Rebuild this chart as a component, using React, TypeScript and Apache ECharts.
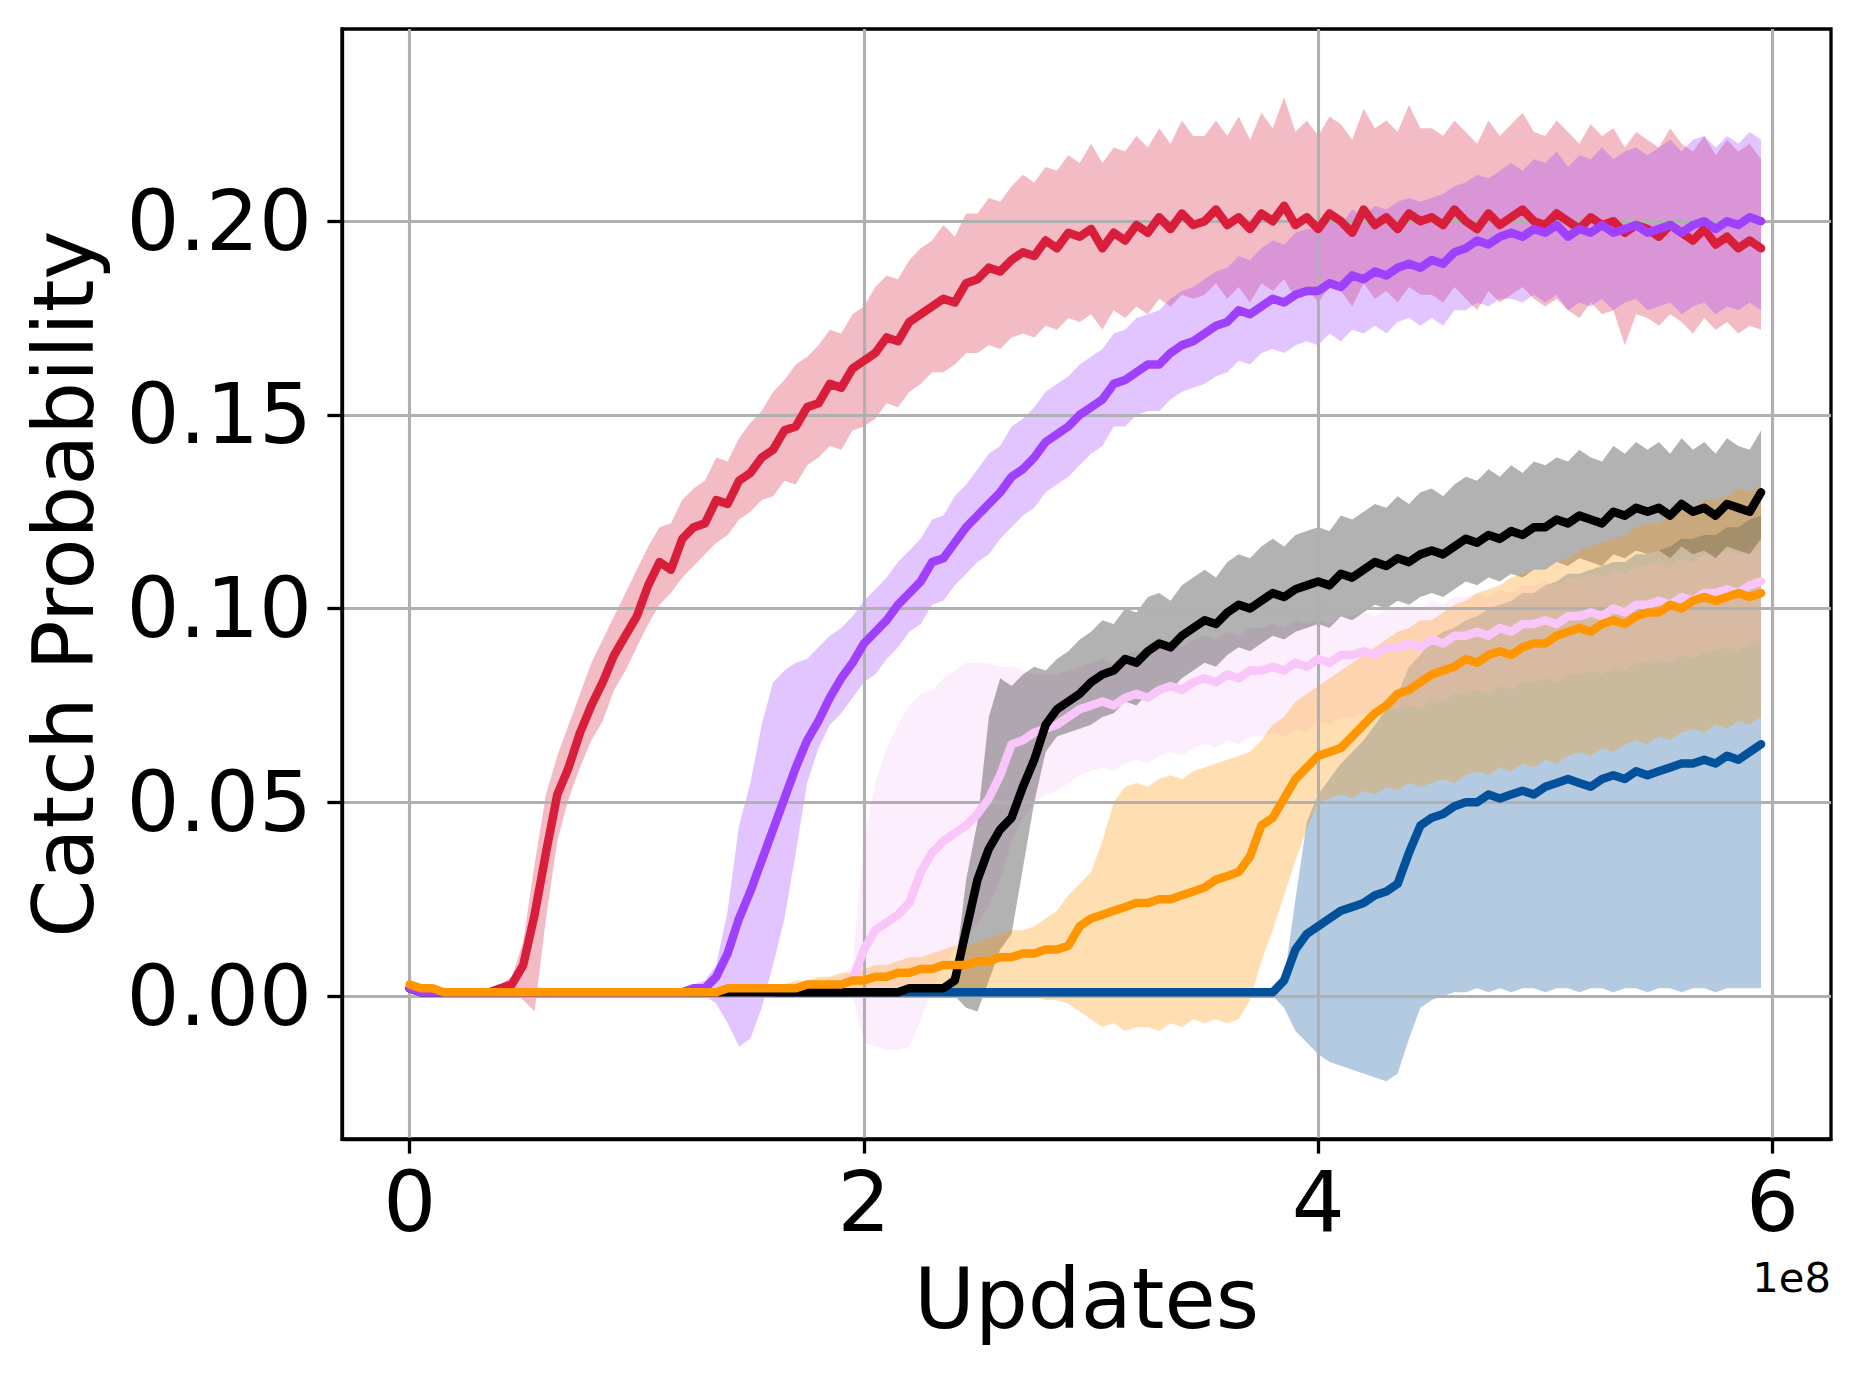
import React, { useEffect, useRef } from "react";
import * as echarts from "echarts";

// x positions in units of 1e8 updates
const X_UPDATES = [
  0.0, 0.05, 0.1, 0.15, 0.2, 0.25, 0.3, 0.35, 0.4, 0.45,
  0.5, 0.55, 0.6, 0.65, 0.7, 0.75, 0.8, 0.85, 0.9, 0.95,
  1.0, 1.05, 1.1, 1.15, 1.2, 1.25, 1.3, 1.35, 1.4, 1.45,
  1.5, 1.55, 1.6, 1.65, 1.7, 1.75, 1.8, 1.85, 1.9, 1.95,
  2.0, 2.05, 2.1, 2.15, 2.2, 2.25, 2.3, 2.35, 2.4, 2.45,
  2.5, 2.55, 2.6, 2.65, 2.7, 2.75, 2.8, 2.85, 2.9, 2.95,
  3.0, 3.05, 3.1, 3.15, 3.2, 3.25, 3.3, 3.35, 3.4, 3.45,
  3.5, 3.55, 3.6, 3.65, 3.7, 3.75, 3.8, 3.85, 3.9, 3.95,
  4.0, 4.05, 4.1, 4.15, 4.2, 4.25, 4.3, 4.35, 4.4, 4.45,
  4.5, 4.55, 4.6, 4.65, 4.7, 4.75, 4.8, 4.85, 4.9, 4.95,
  5.0, 5.05, 5.1, 5.15, 5.2, 5.25, 5.3, 5.35, 5.4, 5.45,
  5.5, 5.55, 5.6, 5.65, 5.7, 5.75, 5.8, 5.85, 5.9, 5.95,
];

// catch probability in per-mille (1/1000)
const RED_MEAN = [
  2, 1, 1, 1, 1, 1, 1, 1, 2, 3,
  8, 21, 37, 52, 59, 68, 75, 81, 88, 93,
  98, 106, 112, 110, 118, 121, 122, 128, 127, 133,
  135, 139, 141, 146, 147, 152, 153, 158, 157, 162,
  164, 166, 170, 169, 174, 176, 178, 180, 179, 184,
  185, 188, 187, 190, 192, 191, 195, 193, 197, 196,
  198, 193, 197, 195, 199, 197, 201, 198, 202, 199,
  200, 203, 199, 201, 198, 202, 200, 204, 199, 201,
  198, 202, 200, 197, 203, 199, 201, 198, 202, 200,
  201, 199, 203, 200, 198, 202, 199, 201, 203, 200,
  199, 202, 200, 198, 201, 199, 200, 197, 199, 198,
  196, 199, 197, 195, 198, 194, 196, 193, 195, 193,
];
const RED_LO = [
  1, 0, 0, 0, 0, 0, 0, 0, 1, 1,
  -1, -4, 20, 40, 51, 59, 66, 71, 79, 84,
  90, 96, 101, 104, 108, 111, 114, 117, 119, 123,
  125, 128, 129, 133, 132, 137, 139, 142, 141, 146,
  147, 149, 153, 152, 156, 158, 161, 161, 163, 166,
  166, 168, 167, 170, 171, 170, 173, 172, 175, 174,
  176, 172, 177, 175, 178, 176, 180, 178, 181, 180,
  181, 184, 180, 183, 179, 184, 182, 185, 180, 183,
  179, 183, 182, 178, 184, 180, 182, 179, 183, 181,
  181, 179, 183, 180, 177, 182, 179, 181, 183, 180,
  178, 180, 177, 175, 179, 176, 177, 168, 176, 175,
  173, 176, 174, 171, 175, 172, 174, 171, 173, 172,
];
const RED_HI = [
  3, 2, 2, 2, 2, 2, 2, 2, 3, 5,
  14, 34, 52, 62, 70, 78, 86, 92, 98, 104,
  110, 116, 121, 122, 128, 131, 133, 139, 138, 144,
  148, 151, 156, 159, 163, 165, 168, 172, 171, 176,
  178, 183, 186, 185, 190, 193, 195, 199, 196, 202,
  202, 206, 205, 209, 212, 210, 214, 213, 217, 215,
  220, 215, 219, 218, 222, 219, 224, 220, 226, 222,
  222, 226, 222, 227, 221, 228, 224, 232, 223, 226,
  222, 227, 225, 221, 229, 224, 226, 223, 230, 224,
  224, 222, 226, 223, 220, 226, 222, 225, 228, 223,
  222, 226, 223, 220, 225, 222, 224, 219, 223, 221,
  219, 224, 220, 218, 222, 217, 221, 218, 220, 216,
];

const PURPLE_MEAN = [
  2, 1, 1, 1, 1, 1, 1, 1, 1, 1,
  1, 1, 1, 1, 1, 1, 1, 1, 1, 1,
  1, 1, 1, 1, 1, 2, 2, 5, 11, 20,
  27, 35, 43, 51, 59, 66, 71, 77, 82, 86,
  91, 94, 97, 101, 104, 107, 112, 113, 117, 121,
  124, 127, 130, 134, 136, 139, 143, 145, 147, 150,
  152, 154, 158, 159, 161, 163, 163, 166, 168, 169,
  171, 173, 174, 177, 176, 178, 180, 179, 181, 182,
  182, 184, 183, 186, 185, 187, 186, 188, 189, 188,
  190, 189, 192, 193, 195, 194, 196, 197, 196, 198,
  197, 199, 196, 198, 197, 199, 197, 198, 199, 197,
  198, 199, 197, 199, 200, 198, 200, 199, 201, 200,
];
const PURPLE_LO = [
  1, 0, 0, 0, 0, 0, 0, 0, 0, 0,
  0, 0, 0, 0, 0, 0, 0, 0, 0, 0,
  0, 0, 0, 0, 0, 0, 0, -2, -7, -13,
  -11, -3, 8, 20, 37, 55, 64, 70, 73, 77,
  81, 83, 87, 90, 94, 96, 101, 102, 106, 109,
  112, 114, 118, 121, 124, 126, 130, 132, 134, 137,
  140, 142, 147, 147, 150, 151, 151, 154, 156, 157,
  158, 160, 161, 164, 163, 166, 167, 166, 168, 169,
  168, 171, 169, 172, 171, 173, 171, 174, 175, 173,
  175, 173, 177, 177, 179, 178, 180, 180, 179, 181,
  179, 181, 177, 179, 178, 180, 177, 179, 180, 177,
  178, 179, 176, 178, 179, 176, 178, 177, 179, 177,
];
const PURPLE_HI = [
  3, 2, 2, 2, 2, 2, 2, 2, 2, 2,
  2, 2, 2, 2, 2, 2, 2, 2, 2, 2,
  2, 2, 2, 2, 2, 3, 4, 8, 22, 44,
  55, 70, 81, 84, 86, 87, 90, 93, 95, 98,
  102, 105, 108, 112, 115, 118, 123, 124, 129, 132,
  136, 140, 142, 147, 149, 152, 156, 158, 160, 163,
  165, 167, 171, 172, 175, 176, 177, 180, 182, 183,
  185, 187, 188, 191, 190, 193, 195, 194, 197, 198,
  198, 200, 199, 203, 201, 204, 203, 205, 206, 205,
  206, 207, 209, 210, 212, 211, 213, 215, 213, 216,
  215, 218, 214, 217, 216, 219, 216, 218, 219, 217,
  219, 221, 218, 221, 222, 219, 222, 220, 223, 221,
];

const PINK_MEAN = [
  2, 1, 1, 1, 1, 1, 1, 1, 1, 1,
  1, 1, 1, 1, 1, 1, 1, 1, 1, 1,
  1, 1, 1, 1, 1, 1, 1, 1, 1, 1,
  1, 1, 1, 2, 2, 2, 2, 3, 3, 4,
  12, 17, 19, 21, 24, 32, 37, 40, 42, 44,
  47, 51, 57, 65, 66, 68, 69, 70, 72, 74,
  75, 76, 75, 77, 78, 77, 79, 80, 79, 81,
  82, 81, 83, 82, 84, 84, 85, 84, 86, 85,
  87, 86, 88, 88, 89, 88, 90, 90, 91, 90,
  92, 91, 93, 93, 94, 93, 95, 94, 96, 96,
  97, 96, 98, 98, 99, 98, 100, 99, 101, 101,
  102, 101, 103, 102, 104, 104, 105, 104, 106, 107,
];
const PINK_LO = [
  1, 0, 0, 0, 0, 0, 0, 0, 0, 0,
  0, 0, 0, 0, 0, 0, 0, 0, 0, 0,
  0, 0, 0, 0, 0, 0, 0, 0, 0, 0,
  0, 0, 0, 0, 0, 0, 0, 1, 1, 0,
  -12, -13, -14, -14, -13, -6, 2, 8, 12, 15,
  19, 23, 30, 40, 46, 50, 52, 53, 55, 57,
  58, 59, 58, 60, 61, 60, 62, 63, 62, 64,
  65, 64, 66, 65, 67, 67, 68, 67, 69, 68,
  71, 70, 72, 72, 73, 72, 74, 74, 75, 74,
  77, 76, 78, 78, 79, 78, 80, 79, 81, 81,
  82, 81, 83, 83, 84, 83, 85, 84, 86, 86,
  87, 86, 88, 87, 89, 89, 90, 89, 91, 92,
];
const PINK_HI = [
  3, 2, 2, 2, 2, 2, 2, 2, 2, 2,
  2, 2, 2, 2, 2, 2, 2, 2, 2, 2,
  2, 2, 2, 2, 2, 2, 2, 2, 2, 2,
  2, 2, 2, 3, 3, 3, 3, 5, 5, 8,
  40, 55, 64, 70, 75, 78, 79, 82, 84, 86,
  86, 86, 85, 85, 84, 83, 83, 83, 84, 85,
  86, 87, 86, 88, 89, 88, 90, 91, 90, 92,
  93, 92, 94, 93, 95, 95, 96, 95, 97, 96,
  97, 96, 98, 98, 99, 98, 100, 100, 101, 100,
  102, 101, 103, 103, 104, 103, 105, 104, 106, 106,
  107, 106, 108, 108, 109, 108, 110, 109, 111, 111,
  112, 111, 113, 112, 114, 114, 115, 114, 116, 117,
];

const BLACK_MEAN = [
  2, 1, 1, 1, 1, 1, 1, 1, 1, 1,
  1, 1, 1, 1, 1, 1, 1, 1, 1, 1,
  1, 1, 1, 1, 1, 1, 1, 1, 1, 1,
  1, 1, 1, 1, 1, 1, 1, 1, 1, 1,
  1, 1, 1, 1, 2, 2, 2, 2, 4, 17,
  30, 38, 43, 46, 54, 61, 70, 74, 76, 78,
  81, 83, 84, 87, 86, 89, 91, 90, 93, 95,
  97, 96, 99, 101, 100, 102, 104, 103, 105, 106,
  107, 106, 109, 108, 110, 112, 111, 113, 112, 114,
  115, 114, 116, 118, 117, 119, 118, 120, 119, 121,
  121, 123, 122, 124, 123, 122, 125, 124, 126, 125,
  126, 124, 127, 125, 126, 124, 127, 126, 125, 130,
];
const BLACK_LO = [
  1, 0, 0, 0, 0, 0, 0, 0, 0, 0,
  0, 0, 0, 0, 0, 0, 0, 0, 0, 0,
  0, 0, 0, 0, 0, 0, 0, 0, 0, 0,
  0, 0, 0, 0, 0, 0, 0, 0, 0, 0,
  0, 0, 0, 0, 1, 1, 1, 1, 0, -3,
  -4, 4, 12, 16, 33, 50, 63, 67, 68, 69,
  70, 72, 73, 76, 75, 78, 80, 79, 82, 84,
  86, 85, 88, 90, 89, 91, 93, 92, 94, 95,
  96, 95, 98, 97, 99, 101, 100, 102, 101, 103,
  104, 103, 105, 107, 106, 108, 107, 109, 108, 110,
  110, 112, 111, 113, 112, 111, 114, 113, 115, 114,
  115, 113, 116, 114, 115, 113, 116, 115, 114, 118,
];
const BLACK_HI = [
  3, 2, 2, 2, 2, 2, 2, 2, 2, 2,
  2, 2, 2, 2, 2, 2, 2, 2, 2, 2,
  2, 2, 2, 2, 2, 2, 2, 2, 2, 2,
  2, 2, 2, 2, 2, 2, 2, 2, 2, 2,
  2, 2, 2, 2, 3, 3, 3, 3, 6, 30,
  45, 72, 82, 80, 83, 85, 84, 87, 89, 92,
  94, 97, 96, 100, 99, 103, 104, 102, 106, 108,
  110, 108, 112, 114, 113, 116, 118, 116, 119, 120,
  121, 120, 124, 123, 125, 127, 126, 129, 127, 130,
  131, 129, 132, 134, 133, 136, 134, 137, 135, 138,
  137, 139, 138, 141, 139, 138, 142, 140, 143, 141,
  143, 140, 144, 141, 143, 140, 144, 142, 141, 146,
];

const ORANGE_MEAN = [
  3, 2, 2, 1, 1, 1, 1, 1, 1, 1,
  1, 1, 1, 1, 1, 1, 1, 1, 1, 1,
  1, 1, 1, 1, 1, 1, 1, 1, 2, 2,
  2, 2, 2, 2, 2, 3, 3, 3, 3, 4,
  4, 5, 5, 6, 6, 7, 7, 8, 8, 8,
  9, 9, 10, 10, 11, 11, 12, 12, 13, 18,
  20, 21, 22, 23, 24, 24, 25, 25, 26, 27,
  28, 30, 31, 32, 36, 44, 46, 51, 56, 59,
  62, 63, 64, 67, 70, 73, 75, 78, 79, 81,
  83, 84, 85, 87, 86, 88, 89, 88, 90, 91,
  91, 93, 94, 95, 94, 96, 97, 96, 98, 99,
  99, 101, 100, 102, 103, 102, 103, 104, 103, 104,
];
const ORANGE_LO = [
  2, 1, 1, 0, 0, 0, 0, 0, 0, 0,
  0, 0, 0, 0, 0, 0, 0, 0, 0, 0,
  0, 0, 0, 0, 0, 0, 0, 0, 0, 0,
  0, 0, 0, 0, 0, 0, 0, 0, 0, 0,
  0, 0, 0, 0, 0, 0, 0, 0, 0, 0,
  0, 0, 0, 0, 0, 0, -1, -1, -2, -4,
  -6, -8, -7, -9, -8, -8, -9, -7, -8, -6,
  -7, -6, -7, -6, -1, 9, 17, 26, 35, 43,
  50, 51, 52, 51, 53, 52, 54, 53, 55, 54,
  55, 56, 55, 57, 58, 57, 59, 58, 60, 59,
  61, 60, 62, 63, 62, 64, 63, 65, 66, 65,
  67, 66, 68, 69, 68, 70, 69, 71, 70, 72,
];
const ORANGE_HI = [
  4, 3, 3, 2, 2, 2, 2, 2, 2, 2,
  2, 2, 2, 2, 2, 2, 2, 2, 2, 2,
  2, 2, 2, 2, 2, 2, 2, 2, 3, 3,
  3, 3, 3, 3, 4, 4, 5, 5, 6, 6,
  7, 8, 8, 9, 10, 10, 11, 12, 13, 13,
  14, 15, 16, 17, 17, 18, 20, 22, 26, 29,
  32, 40, 50, 54, 55, 54, 56, 57, 56, 58,
  59, 60, 61, 62, 63, 66, 70, 72, 76, 78,
  80, 82, 84, 86, 88, 90, 92, 94, 95, 97,
  97, 99, 101, 102, 104, 105, 106, 108, 109, 110,
  110, 112, 113, 115, 116, 117, 118, 119, 121, 122,
  122, 124, 125, 126, 128, 128, 129, 131, 130, 132,
];

const BLUE_MEAN = [
  2, 1, 1, 1, 1, 1, 1, 1, 1, 1,
  1, 1, 1, 1, 1, 1, 1, 1, 1, 1,
  1, 1, 1, 1, 1, 1, 1, 1, 1, 1,
  1, 1, 1, 1, 1, 1, 1, 1, 1, 1,
  1, 1, 1, 1, 1, 1, 1, 1, 1, 1,
  1, 1, 1, 1, 1, 1, 1, 1, 1, 1,
  1, 1, 1, 1, 1, 1, 1, 1, 1, 1,
  1, 1, 1, 1, 1, 1, 1, 4, 12, 16,
  18, 20, 22, 23, 24, 26, 27, 29, 37, 44,
  46, 47, 49, 50, 50, 52, 51, 52, 53, 52,
  54, 55, 56, 55, 54, 56, 57, 56, 58, 57,
  58, 59, 60, 60, 61, 60, 62, 61, 63, 65,
];
const BLUE_LO = [
  1, 0, 0, 0, 0, 0, 0, 0, 0, 0,
  0, 0, 0, 0, 0, 0, 0, 0, 0, 0,
  0, 0, 0, 0, 0, 0, 0, 0, 0, 0,
  0, 0, 0, 0, 0, 0, 0, 0, 0, 0,
  0, 0, 0, 0, 0, 0, 0, 0, 0, 0,
  0, 0, 0, 0, 0, 0, 0, 0, 0, 0,
  0, 0, 0, 0, 0, 0, 0, 0, 0, 0,
  0, 0, 0, 0, 0, 0, 0, -3, -9, -12,
  -15, -17, -18, -19, -20, -21, -22, -20, -11, -3,
  -1, 0, 1, 1, 2, 1, 2, 1, 2, 2,
  1, 2, 2, 1, 2, 2, 1, 2, 2, 1,
  2, 2, 1, 2, 2, 1, 2, 2, 2, 2,
];
const BLUE_HI = [
  3, 2, 2, 2, 2, 2, 2, 2, 2, 2,
  2, 2, 2, 2, 2, 2, 2, 2, 2, 2,
  2, 2, 2, 2, 2, 2, 2, 2, 2, 2,
  2, 2, 2, 2, 2, 2, 2, 2, 2, 2,
  2, 2, 2, 2, 2, 2, 2, 2, 2, 2,
  2, 2, 2, 2, 2, 2, 2, 2, 2, 2,
  2, 2, 2, 2, 2, 2, 2, 2, 2, 2,
  2, 2, 2, 2, 2, 2, 2, 4, 25, 45,
  52, 56, 60, 63, 66, 70, 74, 78, 85, 88,
  92, 94, 95, 97, 98, 100, 101, 102, 104, 104,
  106, 107, 109, 109, 110, 111, 112, 112, 114, 114,
  115, 116, 118, 118, 119, 119, 121, 121, 123, 124,
];

const X_TICKS = [0, 2e8, 4e8, 6e8];
const Y_TICKS = [0, 0.05, 0.1, 0.15, 0.2];

// drawing order: first = bottom
const RUNS = [
  { key: "red", color: "#D81E3A", mean: RED_MEAN, lo: RED_LO, hi: RED_HI },
  { key: "blue", color: "#03519B", mean: BLUE_MEAN, lo: BLUE_LO, hi: BLUE_HI },
  { key: "pink", color: "#F8C6F8", mean: PINK_MEAN, lo: PINK_LO, hi: PINK_HI },
  { key: "black", color: "#000000", mean: BLACK_MEAN, lo: BLACK_LO, hi: BLACK_HI },
  { key: "purple", color: "#A040FF", mean: PURPLE_MEAN, lo: PURPLE_LO, hi: PURPLE_HI },
  { key: "orange", color: "#FF9600", mean: ORANGE_MEAN, lo: ORANGE_LO, hi: ORANGE_HI },
];

const FONT = "DejaVu Sans";
const FS = 83.3;

export default function App() {
  const ref = useRef<HTMLDivElement>(null);

  useEffect(() => {
    if (!ref.current) return;
    const chart = echarts.init(ref.current, null, { renderer: "svg" });

    const toPts = (arr: number[]) => X_UPDATES.map((x, i) => [x * 1e8, arr[i] / 1000]);

    const bandSeries: any[] = RUNS.map((r) => ({
      type: "custom",
      name: r.key + "-band",
      silent: true,
      z: 1,
      clip: true,
      encode: { x: 0, y: [1, 2] },
      data: X_UPDATES.map((x, i) => [x * 1e8, r.lo[i] / 1000, r.hi[i] / 1000]),
      renderItem: (params: any, api: any) => {
        if (params.dataIndexInside !== 0) return null;
        const n = params.dataInsideLength;
        const upper: number[][] = [];
        const lower: number[][] = [];
        for (let j = 0; j < n; j++) {
          const xv = api.value(0, j);
          upper.push(api.coord([xv, api.value(2, j)]));
          lower.push(api.coord([xv, api.value(1, j)]));
        }
        return {
          type: "polygon",
          shape: { points: upper.concat(lower.reverse()) },
          style: { fill: r.color, opacity: 0.3 },
        };
      },
    }));

    const lineSeries: any[] = RUNS.map((r) => ({
      type: "line",
      name: r.key,
      data: toPts(r.mean),
      symbol: "none",
      showSymbol: false,
      lineStyle: { width: 8.5, color: r.color, cap: "round", join: "round" },
      silent: true,
      z: 3,
    }));

    const axisCommon = {
      axisLine: { show: true, onZero: false, lineStyle: { color: "#000", width: 3.3 } },
      axisTick: { show: true, length: 14.6, lineStyle: { color: "#000", width: 3.3 } },
      splitLine: { show: true, lineStyle: { color: "#b0b0b0", width: 3.1 } },
    };

    chart.setOption({
      animation: false,
      backgroundColor: "#ffffff",
      title: {
        text: "1e8",
        right: 29,
        top: 1256,
        padding: 0,
        textStyle: { fontFamily: FONT, fontSize: 41.7, fontWeight: "normal", color: "#000" },
      },
      grid: {
        left: 342,
        top: 29,
        width: 1489,
        height: 1110,
        show: true,
        borderColor: "#000",
        borderWidth: 3.3,
        backgroundColor: "transparent",
      },
      xAxis: {
        type: "value",
        min: -0.298e8,
        max: 6.258e8,
        z: 2,
        ...axisCommon,
        axisTick: { ...axisCommon.axisTick, customValues: X_TICKS },
        axisLabel: {
          customValues: X_TICKS,
          margin: 22,
          fontFamily: FONT,
          fontSize: FS,
          color: "#000",
          formatter: (v: number) => String(Math.round(v / 1e8)),
        },
        name: "Updates",
        nameLocation: "middle",
        nameGap: 119,
        nameTextStyle: { fontFamily: FONT, fontSize: FS, color: "#000" },
      },
      yAxis: {
        type: "value",
        min: -0.0369,
        max: 0.2496,
        z: 2,
        ...axisCommon,
        axisTick: { ...axisCommon.axisTick, customValues: Y_TICKS },
        axisLabel: {
          customValues: Y_TICKS,
          margin: 30,
          fontFamily: FONT,
          fontSize: FS,
          color: "#000",
          formatter: (v: number) => v.toFixed(2),
        },
        name: "Catch Probability",
        nameLocation: "middle",
        nameGap: 236,
        nameRotate: 90,
        nameTextStyle: { fontFamily: FONT, fontSize: FS, color: "#000" },
      },
      series: [...bandSeries, ...lineSeries],
    });

    return () => chart.dispose();
  }, []);

  return (
    <div
      ref={ref}
      style={{ position: "absolute", left: 0, top: 0, width: 1860, height: 1376, background: "#fff" }}
    />
  );
}
